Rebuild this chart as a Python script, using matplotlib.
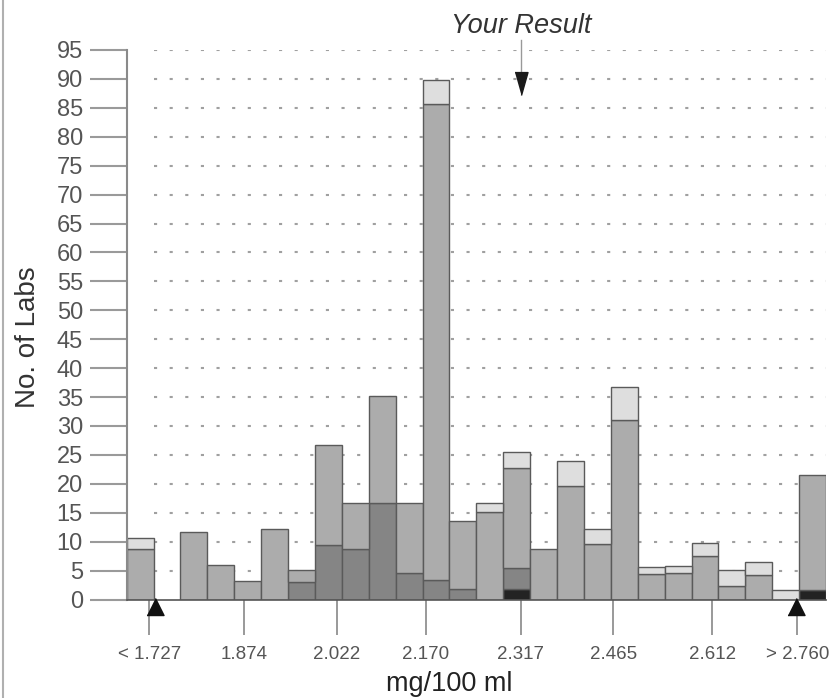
import numpy as np
import matplotlib
matplotlib.use('Agg')
import matplotlib.pyplot as plt
from matplotlib.lines import Line2D

plt.rcParams['font.family'] = ['Liberation Sans', 'DejaVu Sans']

# 26 bins, bin 0 is "< 1.727", bin 25 is "> 2.760", bin 1 empty
black = [0, 0, 0, 0, 0, 0, 0, 0, 0, 0, 0, 0, 0, 0, 1.9, 0,
         0, 0, 0, 0, 0, 0, 0, 0, 0, 1.6]
dark = [0, 0, 0, 0, 0, 0, 3.0, 9.4, 8.7, 16.6, 4.5, 3.3, 1.8, 0, 3.5, 0,
        0, 0, 0, 0, 0, 0, 0, 0, 0, 0]
mid = [8.7, 0, 11.6, 5.9, 3.2, 12.2, 2.1, 17.3, 7.9, 18.6, 12.1, 82.4, 11.8, 15.2, 17.3, 8.7,
       19.6, 9.6, 31.0, 4.4, 4.6, 7.6, 2.4, 4.2, 0, 19.9]
light = [2.0, 0, 0, 0, 0, 0, 0, 0, 0, 0, 0, 4.1, 0, 1.5, 2.8, 0,
         4.3, 2.6, 5.7, 1.3, 1.2, 2.2, 2.7, 2.2, 1.6, 0]

tick_labels = ['< 1.727', '1.874', '2.022', '2.170', '2.317', '2.465', '2.612', '> 2.760']
tick_pos = [0.84, 4.37, 7.81, 11.13, 14.65, 18.09, 21.78, 24.94]

result_pos = 14.65          # Your Result (2.317)
limit_pos = [1.05, 24.9]    # acceptance limits

n = len(mid)
x = np.arange(n) + 0.5

fig = plt.figure(figsize=(8.33, 6.98), dpi=100)
ax = fig.add_axes([126.7/833, 1-599.5/698, (826-126.7)/833, (599.5-50)/698])

# dotted grid behind bars
ax.hlines(np.arange(5, 100, 5), 1, n, colors='#a0a0a0', linestyles=(0, (1.5, 6)), lw=1.5, zorder=0)

edge = '#5a5a5a'
b0 = np.zeros(n)
for vals, col in [(black, '#232323'), (dark, '#858585'), (mid, '#acacac'), (light, '#dedede')]:
    v = np.array(vals)
    m = v > 0
    ax.bar(x[m], v[m], width=1.0, bottom=b0[m], color=col, edgecolor=edge, lw=1.0, zorder=2)
    b0 = b0 + v

ax.set_xlim(0, n)
ax.set_ylim(0, 95)

ax.spines['top'].set_visible(False)
ax.spines['right'].set_visible(False)
ax.spines['left'].set_color('#8a8a8a')
ax.spines['left'].set_linewidth(1.5)
ax.spines['bottom'].set_color('#555555')
ax.spines['bottom'].set_linewidth(1.2)
ax.spines['bottom'].set_zorder(3)

ax.set_yticks(np.arange(0, 100, 5))
ax.tick_params(axis='y', length=26.5, width=1.5, color='#9a9a9a', pad=5,
               labelsize=17, labelcolor='#555555')
ax.set_xticks(tick_pos)
ax.set_xticklabels(tick_labels)
ax.tick_params(axis='x', length=25, width=1.2, color='#888888', pad=8.5,
               labelsize=13.5, labelcolor='#555555')

# Your Result arrow
ax.plot([result_pos, result_pos], [96.7, 91.0], color='#999999', lw=1.0, clip_on=False, zorder=5)
ax.plot([result_pos], [87.2], marker=[(-6.5, 23), (6.5, 23), (0, 0)], ms=33,
        color='#1a1a1a', clip_on=False, zorder=5, ls='none')
ax.text(result_pos, 97.9, 'Your Result', style='italic', fontsize=19.5, color='#333333',
        ha='center', va='baseline', clip_on=False)

# limit arrows sitting on the outer ticks
for p in limit_pos:
    ax.plot([p], [0.26], marker=[(-8.5, -17), (8.5, -17), (0, 0)], ms=24.5,
            color='#111111', clip_on=False, zorder=5, ls='none')

fig.text(28/833, 1-337/698, 'No. of Labs', rotation=90, fontsize=20, color='#333333',
         ha='center', va='center')
fig.text(449/833, 1-691/698, 'mg/100 ml', fontsize=19.5, color='#222222',
         ha='center', va='baseline')

fig.add_artist(Line2D([3/833, 3/833], [0, 1], color='#b0b0b0', lw=1.5, transform=fig.transFigure))

fig.savefig('out.png', dpi=100)
